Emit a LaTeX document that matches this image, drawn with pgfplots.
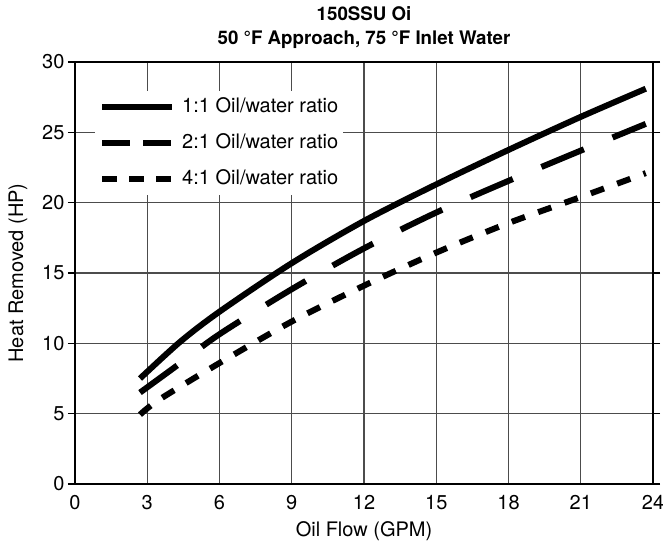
\documentclass[border=0pt]{standalone}
\usepackage{fontspec}
\setmainfont{TeX Gyre Heros}
\usepackage{pgfplots}
\pgfplotsset{compat=1.18}
\begin{document}
\begin{tikzpicture}
\begin{axis}[
  scale only axis,
  width=578bp, height=422bp,
  xmin=0, xmax=24, ymin=0, ymax=30,
  xtick={0,3,...,24}, ytick={0,5,...,30},
  grid=major,
  major grid style={line width=1.1bp, color=black!70},
  axis line style={line width=2.6bp},
  tick style={line width=1.1bp, color=black},
  xtick style={draw=none},
  ytick align=outside, major tick length=7bp,
  /pgf/number format/assume math mode=true,
  ticklabel style={font=\fontsize{20bp}{23bp}\selectfont},
  yticklabel style={xshift=0bp},
  xticklabel style={yshift=-8bp},
  xlabel={Oil Flow (GPM)},
  ylabel={Heat Removed (HP)},
  label style={font=\fontsize{20bp}{23bp}\selectfont},
  xlabel style={at={(axis description cs:0.5,-0.112)}, anchor=center},
  ylabel style={at={(axis description cs:-0.0986,0.5)}, anchor=center, rotate=0},
  title={150SSU Oi\\50 °F Approach, 75 °F Inlet Water},
  title style={at={(axis description cs:0.5,1)}, anchor=south, yshift=7bp, inner sep=0pt, align=center, font=\bfseries\fontsize{18.7bp}{24bp}\selectfont},
  legend cell align=left,
  legend style={at={(axis description cs:0.0346,0.931)}, anchor=north west, draw=none, fill=white,
    inner xsep=4bp, inner ysep=6bp, row sep=16bp,
    font=\fontsize{20bp}{23bp}\selectfont,
    nodes={inner sep=1bp, text height=14bp, text depth=4bp},
    /tikz/every odd column/.style={column sep=6bp}},
]
\addplot[black, line width=6bp, smooth, tension=0.5,
  legend image code/.code={\draw[black, line width=6bp] (0bp,0bp) -- (70bp,0bp);}]
  coordinates {(2.7,7.5) (4.36,10.1) (6,12.25) (9,15.7) (12,18.7) (15,21.3) (18,23.75) (21,26.1) (23.7,28.1)};
\addlegendentry{1:1 Oil/water ratio}
\addplot[black, line width=6bp, smooth, tension=0.5, dash pattern=on 46bp off 31bp,
  legend image code/.code={\draw[black, line width=6bp, dash pattern=on 28bp off 13bp] (0bp,0bp) -- (70bp,0bp);}]
  coordinates {(2.7,6.5) (4.3,8.5) (6,10.65) (9,13.85) (12,16.75) (15,19.3) (18,21.55) (21,23.7) (23.7,25.6)};
\addlegendentry{2:1 Oil/water ratio}
\addplot[black, line width=6bp, smooth, tension=0.5, dash pattern=on 14bp off 14bp,
  legend image code/.code={\draw[black, line width=6bp, dash pattern=on 15bp off 12bp] (0bp,0bp) -- (70bp,0bp);}]
  coordinates {(2.7,4.93) (3.5,6.0) (6,8.6) (9,11.55) (12,14.1) (15,16.45) (18,18.55) (21,20.4) (23.7,22.1)};
\addlegendentry{4:1 Oil/water ratio}
\end{axis}
\pgfresetboundingbox
\path[use as bounding box] (current axis.south west) ++(-75bp,-60bp) rectangle ++(663bp,544bp);
\end{tikzpicture}
\end{document}
